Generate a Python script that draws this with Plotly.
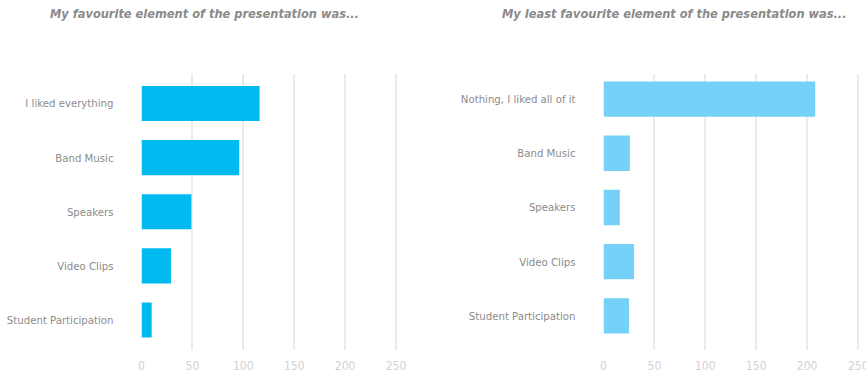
import plotly.graph_objects as go

fav_categories = ["I liked everything", "Band Music", "Speakers", "Video Clips", "Student Participation"]
fav_values = [116, 96, 49, 29, 10]

least_categories = ["Nothing, I liked all of it", "Band Music", "Speakers", "Video Clips", "Student Participation"]
least_values = [208, 26, 16, 30, 25]

x_ticks = [0, 50, 100, 150, 200, 250]

title_left = "My favourite element of the presentation was..."
title_right = "My least favourite element of the presentation was..."

FONT = "DejaVu Sans Condensed, DejaVu Sans, sans-serif"
W, H = 866, 375

fig = go.Figure()
fig.add_trace(go.Bar(y=fav_categories, x=fav_values, orientation="h",
                     marker=dict(color="#00BAF0", line=dict(width=0)),
                     width=0.65, xaxis="x", yaxis="y", hoverinfo="x+y"))
fig.add_trace(go.Bar(y=least_categories, x=least_values, orientation="h",
                     marker=dict(color="#75D1F7", line=dict(width=0)),
                     width=0.65, xaxis="x2", yaxis="y2", hoverinfo="x+y"))

def px(v, total):
    return v / total

ydom = [1 - 350 / H, 1 - 74 / H]

xaxis_common = dict(range=[0, 255], tickvals=x_ticks, showgrid=True, gridcolor="#ebebeb",
                    gridwidth=2, zeroline=False, showline=False, ticks="", automargin=False,
                    ticklabelstandoff=7,
                    tickfont=dict(family=FONT, size=12, color="#d2d2d2"), fixedrange=True)
yaxis_common = dict(showgrid=False, zeroline=False, showline=False, ticks="", automargin=False,
                    tickfont=dict(family=FONT, size=11.3, color="#8c8c8c"),
                    ticklabelstandoff=27, fixedrange=True, type="category")

fig.update_layout(
    width=W, height=H,
    margin=dict(l=0, r=0, t=0, b=0),
    paper_bgcolor="white", plot_bgcolor="white",
    showlegend=False,
    xaxis=dict(domain=[px(141.5, W), px(141.5 + 255 * 1.018, W)], anchor="y", **xaxis_common),
    yaxis=dict(domain=ydom, anchor="x", categoryorder="array", categoryarray=fav_categories,
               range=[4.555, -0.545], **yaxis_common),
    xaxis2=dict(domain=[px(603.5, W), px(603.5 + 255 * 1.018, W)], anchor="y2", **xaxis_common),
    yaxis2=dict(domain=ydom, anchor="x2", categoryorder="array", categoryarray=least_categories,
                range=[4.627, -0.461], **yaxis_common),
    annotations=[
        dict(text="<b><i>" + title_left + "</i></b>", x=204 / W, y=1 - 14 / H, xref="paper", yref="paper",
             xanchor="center", yanchor="middle", showarrow=False,
             font=dict(family=FONT, size=12.7, color="#8a8a8a")),
        dict(text="<b><i>" + title_right + "</i></b>", x=674 / W, y=1 - 14 / H, xref="paper", yref="paper",
             xanchor="center", yanchor="middle", showarrow=False,
             font=dict(family=FONT, size=12.7, color="#8a8a8a")),
        # last tick label of the right axis, which the reference shows clipped at the page edge
        dict(text=str(x_ticks[-1]), x=x_ticks[-1], xref="x2", y=1 - 366 / H, yref="paper",
             xanchor="center", yanchor="middle", showarrow=False,
             font=dict(family=FONT, size=12, color="#d2d2d2")),
    ],
)

fig.write_html("out.html")
